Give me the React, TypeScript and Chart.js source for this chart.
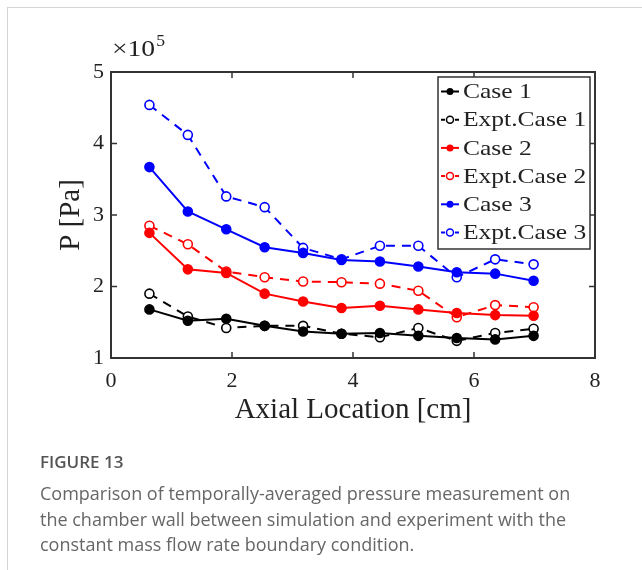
import React, { useEffect, useRef } from "react";
import { Chart, registerables } from "chart.js";

Chart.register(...registerables);

// Axial locations of the pressure taps [cm]
const xLocations = [0.635, 1.27, 1.905, 2.54, 3.175, 3.81, 4.445, 5.08, 5.715, 6.35, 6.985];
// Pressure values in units of 1e5 Pa
const case1 = [1.68, 1.52, 1.55, 1.45, 1.37, 1.34, 1.35, 1.31, 1.28, 1.26, 1.31];
const exptCase1 = [1.9, 1.58, 1.42, 1.45, 1.45, 1.34, 1.29, 1.42, 1.24, 1.35, 1.41];
const case2 = [2.75, 2.24, 2.19, 1.9, 1.79, 1.7, 1.73, 1.68, 1.63, 1.6, 1.59];
const exptCase2 = [2.85, 2.59, 2.21, 2.13, 2.07, 2.06, 2.04, 1.94, 1.57, 1.74, 1.71];
const case3 = [3.67, 3.05, 2.8, 2.55, 2.47, 2.37, 2.35, 2.28, 2.2, 2.18, 2.08];
const exptCase3 = [4.54, 4.12, 3.26, 3.11, 2.54, 2.38, 2.57, 2.57, 2.13, 2.38, 2.31];

const seriesLabels = ["Case 1", "Expt.Case 1", "Case 2", "Expt.Case 2", "Case 3", "Expt.Case 3"];
const seriesValues = [case1, exptCase1, case2, exptCase2, case3, exptCase3];
const seriesColors = ["#000000", "#000000", "#ff0000", "#ff0000", "#0000ff", "#0000ff"];
const seriesExpt = [false, true, false, true, false, true];

const xTickValues = [0, 2, 4, 6, 8];
const yTickValues = [1, 2, 3, 4, 5];

const xTitle = "Axial Location [cm]";
const yTitle = "P [Pa]";
const exponentBase = "\u00d710";
const exponentPower = "5";
const captionHead = "FIGURE 13";
const captionLines = [
  "Comparison of temporally-averaged pressure measurement on",
  "the chamber wall between simulation and experiment with the",
  "constant mass flow rate boundary condition.",
];

const SERIF = "'Liberation Serif', 'DejaVu Serif', serif";
const AXIS_COLOR = "#333333";
const TEXT_COLOR = "#222222";

function stretchedText(ctx: any, text: string, x: number, y: number, sx: number) {
  ctx.save();
  ctx.translate(x, y);
  ctx.scale(sx, 1);
  ctx.fillText(text, 0, 0);
  ctx.restore();
  return ctx.measureText(text).width * sx;
}

const framePlugin = {
  id: "frameAndLegend",
  afterDatasetsDraw(chart: any) {
    const { ctx, chartArea } = chart;
    const { left, right, top, bottom } = chartArea;
    const xs = chart.scales.x;
    const ys = chart.scales.y;
    ctx.save();
    ctx.strokeStyle = AXIS_COLOR;
    ctx.lineWidth = 2;
    ctx.strokeRect(left, top, right - left, bottom - top);
    const tl = 6;
    ctx.lineWidth = 1.5;
    ctx.beginPath();
    xs.ticks.forEach((t: any) => {
      const p = xs.getPixelForValue(t.value);
      if (p <= left + 1 || p >= right - 1) return;
      ctx.moveTo(p, bottom);
      ctx.lineTo(p, bottom - tl);
      ctx.moveTo(p, top);
      ctx.lineTo(p, top + tl);
    });
    ys.ticks.forEach((t: any) => {
      const p = ys.getPixelForValue(t.value);
      if (p <= top + 1 || p >= bottom - 1) return;
      ctx.moveTo(left, p);
      ctx.lineTo(left + tl, p);
      ctx.moveTo(right, p);
      ctx.lineTo(right - tl, p);
    });
    ctx.stroke();

    // exponent label
    ctx.fillStyle = TEXT_COLOR;
    ctx.textBaseline = "middle";
    ctx.textAlign = "left";
    ctx.font = `23px ${SERIF}`;
    const w = stretchedText(ctx, exponentBase, left + 1, top - 22, 1.2);
    ctx.font = `16px ${SERIF}`;
    stretchedText(ctx, exponentPower, left + 2 + w, top - 30, 1.1);

    // legend
    const bw = 152;
    const bh = 172;
    const bx = right - 5 - bw;
    const by = top + 5;
    ctx.fillStyle = "#ffffff";
    ctx.fillRect(bx, by, bw, bh);
    ctx.strokeStyle = AXIS_COLOR;
    ctx.lineWidth = 1.5;
    ctx.strokeRect(bx, by, bw, bh);
    const rowH = 28.2;
    chart.data.datasets.forEach((ds: any, i: number) => {
      const cy = by + 14.5 + i * rowH;
      const cx = bx + 12;
      ctx.strokeStyle = ds.borderColor;
      ctx.lineWidth = 2;
      ctx.beginPath();
      if (ds.borderDash && ds.borderDash.length) {
        ctx.moveTo(bx + 3, cy);
        ctx.lineTo(bx + 7, cy);
        ctx.moveTo(bx + 17, cy);
        ctx.lineTo(bx + 21, cy);
      } else {
        ctx.moveTo(bx + 3, cy);
        ctx.lineTo(bx + 21, cy);
      }
      ctx.stroke();
      ctx.beginPath();
      ctx.arc(cx, cy, 3.5, 0, Math.PI * 2);
      if (ds.pointBackgroundColor === "#ffffff") {
        ctx.fillStyle = "#ffffff";
        ctx.fill();
        ctx.lineWidth = 1.5;
        ctx.stroke();
      } else {
        ctx.fillStyle = ds.borderColor;
        ctx.fill();
      }
      ctx.fillStyle = TEXT_COLOR;
      ctx.font = `22px ${SERIF}`;
      ctx.textAlign = "left";
      ctx.textBaseline = "middle";
      stretchedText(ctx, ds.label, bx + 25, cy + 1, 1.16);
    });
    ctx.restore();
  },
};

export default function App() {
  const canvasRef = useRef<HTMLCanvasElement | null>(null);

  useEffect(() => {
    if (!canvasRef.current) return;
    const datasets = seriesLabels.map((label, i) => ({
      label,
      data: xLocations.map((x, j) => ({ x, y: seriesValues[i][j] })),
      borderColor: seriesColors[i],
      backgroundColor: seriesColors[i],
      borderWidth: 2,
      borderDash: seriesExpt[i] ? [9, 7] : [],
      pointRadius: 4.5,
      pointBorderWidth: 1.6,
      pointBorderColor: seriesColors[i],
      pointBackgroundColor: seriesExpt[i] ? "#ffffff" : seriesColors[i],
      tension: 0,
      fill: false,
    }));

    const chart = new Chart(canvasRef.current, {
      type: "line",
      data: { datasets },
      options: {
        animation: false,
        responsive: false,
        maintainAspectRatio: false,
        layout: { padding: { left: 0, right: 47, top: 72, bottom: 142 } },
        plugins: { legend: { display: false }, tooltip: { enabled: false } },
        scales: {
          x: {
            type: "linear",
            min: 0,
            max: 8,
            afterBuildTicks: (s: any) => {
              s.ticks = xTickValues.map((v) => ({ value: v }));
            },
            ticks: { font: { family: SERIF, size: 22 }, color: TEXT_COLOR, padding: 10, maxRotation: 0 },
            grid: { display: false, drawTicks: false },
            border: { display: false },
            title: {
              display: true,
              text: xTitle,
              font: { family: SERIF, size: 29 },
              color: TEXT_COLOR,
              padding: { top: 0, bottom: 0 },
            },
            afterFit: (s: any) => {
              s.height = 70;
            },
          },
          y: {
            type: "linear",
            min: 1,
            max: 5,
            afterBuildTicks: (s: any) => {
              s.ticks = yTickValues.map((v) => ({ value: v }));
            },
            ticks: { font: { family: SERIF, size: 22 }, color: TEXT_COLOR, padding: 7 },
            grid: { display: false, drawTicks: false },
            border: { display: false },
            title: {
              display: true,
              text: yTitle,
              font: { family: SERIF, size: 29 },
              color: TEXT_COLOR,
              padding: { top: 54, bottom: 0 },
            },
            afterFit: (s: any) => {
              s.width = 111;
            },
          },
        },
      },
      plugins: [framePlugin],
    } as any);
    return () => chart.destroy();
  }, []);

  const captionFont = "'Open Sans', 'Noto Sans', sans-serif";

  return (
    <div
      style={{
        position: "fixed",
        left: 0,
        top: 0,
        width: 642,
        height: 570,
        background: "#ffffff",
        overflow: "hidden",
      }}
    >
      <div style={{ position: "absolute", left: 7, top: 7, width: 635, height: 1, background: "#d4d4d4" }} />
      <div style={{ position: "absolute", left: 7, top: 7, width: 1, height: 563, background: "#d4d4d4" }} />
      <canvas ref={canvasRef} width={642} height={570} style={{ position: "absolute", left: 0, top: 0 }} />
      <div
        style={{
          position: "absolute",
          left: 40,
          top: 450,
          fontFamily: captionFont,
          fontSize: 17,
          fontWeight: 600,
          color: "#555",
          whiteSpace: "nowrap",
        }}
      >
        {captionHead}
      </div>
      {captionLines.map((line, i) => (
        <div
          key={i}
          style={{
            position: "absolute",
            left: 40,
            top: 481 + i * 25.5,
            fontFamily: captionFont,
            fontSize: 18,
            color: "#666",
            whiteSpace: "nowrap",
          }}
        >
          {line}
        </div>
      ))}
    </div>
  );
}
